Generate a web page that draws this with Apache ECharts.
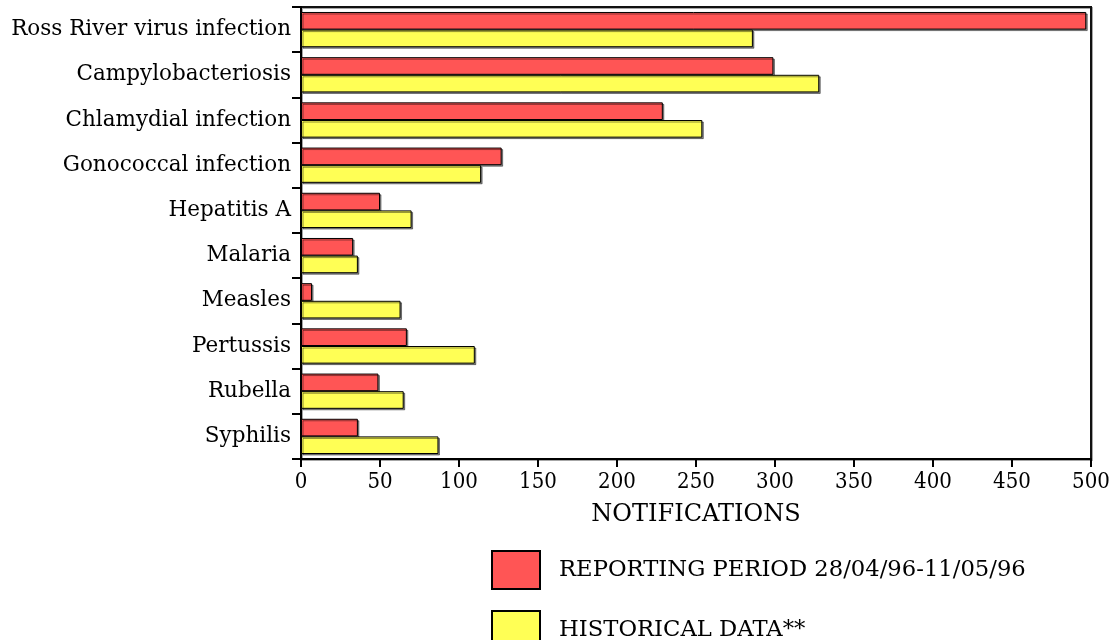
<!DOCTYPE html>
<html>
<head>
<meta charset="utf-8">
<script src="https://cdn.jsdelivr.net/npm/echarts@6/dist/echarts.min.js"></script>
<style>
html,body{margin:0;padding:0;background:#fff;}
#chart{width:1115px;height:640px;}
</style>
</head>
<body>
<div id="chart"></div>
<script>
const categories = ["Ross River virus infection","Campylobacteriosis","Chlamydial infection","Gonococcal infection","Hepatitis A","Malaria","Measles","Pertussis","Rubella","Syphilis"];
const reportingPeriod = [497, 299, 229, 127, 50, 33, 7, 67, 49, 36];
const historicalData = [286, 328, 254, 114, 70, 36, 63, 110, 65, 87];
const xTicks = [0, 50, 100, 150, 200, 250, 300, 350, 400, 450, 500];
const seriesNames = ["REPORTING PERIOD 28/04/96-11/05/96", "HISTORICAL DATA**"];

const chart = echarts.init(document.getElementById('chart'), null, {renderer: 'canvas'});
const serif = '"DejaVu Serif", "Liberation Serif", serif';
const barStyle = (c) => ({
  color: c, borderColor: '#000', borderWidth: 1,
  shadowColor: 'rgba(0,0,0,0.45)', shadowBlur: 0, shadowOffsetX: 1.5, shadowOffsetY: 1.5
});
chart.setOption({
  animation: false,
  backgroundColor: '#fff',
  grid: {left: 301, right: 24, top: 7, bottom: 181, show: true, borderColor: '#111', borderWidth: 2,
         shadowColor: 'rgba(0,0,0,0.35)', shadowOffsetX: 1, shadowOffsetY: 1},
  legend: {
    orient: 'vertical', left: 491, top: 550, height: 150, padding: 0,
    itemWidth: 48, itemHeight: 38, itemGap: 20,
    icon: 'rect',
    textStyle: {fontFamily: serif, fontSize: 22.7, color: '#000', padding: [0, 0, 0, 14]},
    data: seriesNames
  },
  xAxis: {
    type: 'value', min: xTicks[0], max: xTicks[xTicks.length - 1], interval: 50,
    position: 'bottom',
    name: 'NOTIFICATIONS', nameLocation: 'middle', nameGap: 44,
    nameTextStyle: {fontFamily: serif, fontSize: 24, color: '#000', verticalAlign: 'top'},
    axisLine: {show: true, lineStyle: {color: '#000', width: 2}},
    axisTick: {show: true, inside: false, length: 8, lineStyle: {color: '#000', width: 2}},
    axisLabel: {margin: 12, fontFamily: '"DejaVu Serif Condensed", "DejaVu Serif", serif', fontSize: 22, color: '#000',
                formatter: (v) => String(v)},
    splitLine: {show: false}
  },
  yAxis: {
    type: 'category', data: categories, inverse: true,
    axisLine: {show: true, lineStyle: {color: '#000', width: 2}},
    axisTick: {show: true, inside: false, length: 9, lineStyle: {color: '#000', width: 2}},
    axisLabel: {margin: 10, fontFamily: serif, fontSize: 21.5, color: '#000'},
    splitLine: {show: false}
  },
  series: [
    {name: seriesNames[0], type: 'bar', data: reportingPeriod, barCategoryGap: '22%', barGap: '0%',
     itemStyle: barStyle('#ff5555')},
    {name: seriesNames[1], type: 'bar', data: historicalData, barCategoryGap: '22%', barGap: '0%',
     itemStyle: barStyle('#ffff55')}
  ]
});
</script>
</body>
</html>
